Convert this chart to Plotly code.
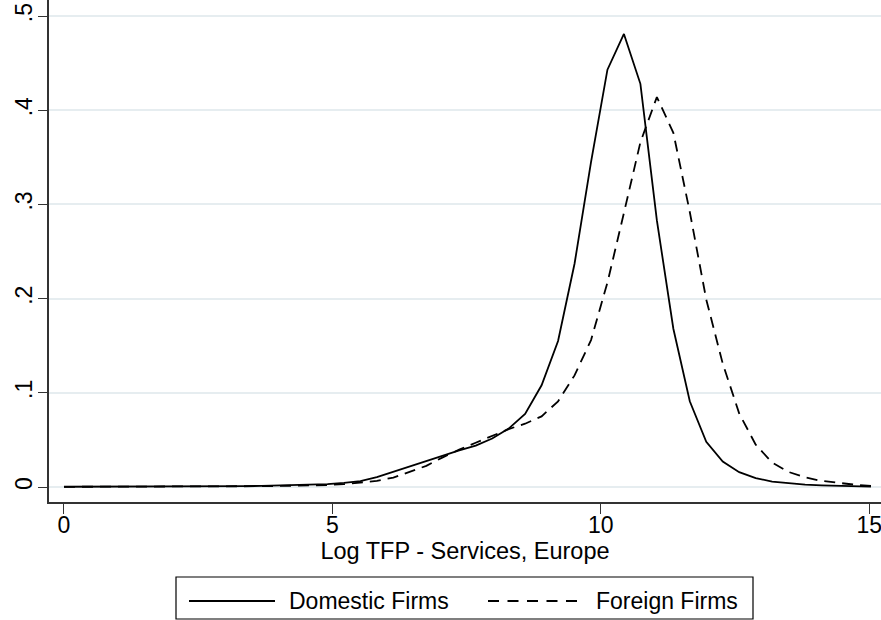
import plotly.graph_objects as go

# Kernel density estimates of log TFP (services, Europe), evaluated on a common grid
log_tfp = [0.000, 0.307, 0.614, 0.920, 1.227, 1.534, 1.841, 2.148, 2.454, 2.761,
           3.068, 3.375, 3.682, 3.988, 4.295, 4.602, 4.909, 5.216, 5.522, 5.829,
           6.136, 6.443, 6.750, 7.056, 7.363, 7.670, 7.977, 8.284, 8.590, 8.897,
           9.204, 9.511, 9.818, 10.124, 10.431, 10.738, 11.045, 11.352, 11.658, 11.965,
           12.272, 12.579, 12.886, 13.192, 13.499, 13.806, 14.113, 14.420, 14.726, 15.033]

domestic_density = [0.0003, 0.0003, 0.0003, 0.0004, 0.0004, 0.0005, 0.0005, 0.0006, 0.0007, 0.0008,
                    0.0009, 0.0010, 0.0012, 0.0015, 0.0019, 0.0024, 0.0031, 0.0043, 0.0063, 0.0105,
                    0.0163, 0.0220, 0.0280, 0.0338, 0.0388, 0.0440, 0.0515, 0.0620, 0.0775, 0.1080,
                    0.1550, 0.2370, 0.3450, 0.4430, 0.4810, 0.4280, 0.2830, 0.1680, 0.0910, 0.0480,
                    0.0270, 0.0158, 0.0095, 0.0058, 0.0038, 0.0025, 0.0017, 0.0011, 0.0007, 0.0004]

foreign_density = [0.0002, 0.0002, 0.0002, 0.0003, 0.0003, 0.0004, 0.0004, 0.0005, 0.0005, 0.0006,
                   0.0007, 0.0008, 0.0009, 0.0011, 0.0013, 0.0016, 0.0021, 0.0030, 0.0045, 0.0066,
                   0.0100, 0.0165, 0.0225, 0.0315, 0.0398, 0.0470, 0.0545, 0.0615, 0.0672, 0.0750,
                   0.0910, 0.1185, 0.1560, 0.2170, 0.2910, 0.3660, 0.4140, 0.3760, 0.2920, 0.1990,
                   0.1310, 0.0780, 0.0450, 0.0260, 0.0160, 0.0102, 0.0065, 0.0041, 0.0025, 0.0012]

x_ticks = [0, 5, 10, 15]
y_ticks = [0, 0.1, 0.2, 0.3, 0.4, 0.5]
y_tick_labels = ["0", ".1", ".2", ".3", ".4", ".5"]
series_names = ["Domestic Firms", "Foreign Firms"]

FONT = "Liberation Sans, Arial, sans-serif"
W, H = 881, 620
M_L, M_R, M_T, M_B = 49, 0, 0, 118
DASH = "11px,7px"
AXIS = "#333333"

fig = go.Figure()
fig.add_trace(go.Scatter(x=log_tfp, y=domestic_density, mode="lines",
                         name=series_names[0], line=dict(color="black", width=1.8)))
fig.add_trace(go.Scatter(x=log_tfp, y=foreign_density, mode="lines",
                         name=series_names[1], line=dict(color="black", width=1.8, dash=DASH)))

# pixel -> paper helpers for the boxed legend under the axis title
pw, ph = W - M_L - M_R, H - M_T - M_B
def px(x):
    return (x - M_L) / pw
def py(y):
    return (H - M_B - y) / ph

box_l, box_r, box_t, box_b = 176, 753, 577, 619
row_y = 601
fig.add_shape(type="rect", xref="paper", yref="paper",
              x0=px(box_l), x1=px(box_r), y0=py(box_b), y1=py(box_t),
              line=dict(color="black", width=1.2), fillcolor="white", layer="below")
fig.add_shape(type="line", xref="paper", yref="paper",
              x0=px(189), x1=px(275), y0=py(row_y), y1=py(row_y),
              line=dict(color="black", width=1.8))
fig.add_shape(type="line", xref="paper", yref="paper",
              x0=px(488), x1=px(578), y0=py(row_y), y1=py(row_y),
              line=dict(color="black", width=1.8, dash="11px,8.5px"))
for name, left in zip(series_names, [289, 596]):
    fig.add_annotation(x=px(left), y=py(row_y), xref="paper", yref="paper",
                       text=name, showarrow=False, xanchor="left", yanchor="middle",
                       xshift=-2, font=dict(family=FONT, size=23, color="black"))

fig.update_layout(
    width=W, height=H,
    margin=dict(l=M_L, r=M_R, t=M_T, b=M_B),
    paper_bgcolor="white", plot_bgcolor="white",
    showlegend=False,
    font=dict(family=FONT, size=23, color="black"),
)
fig.update_xaxes(
    range=[-0.279, 15.22], tickvals=x_ticks, ticks="outside", ticklen=10,
    tickwidth=1.2, tickcolor=AXIS, showline=True, linecolor=AXIS, linewidth=1.5,
    showgrid=False, zeroline=False, ticklabelstandoff=-8, ticklabeloverflow="allow",
    tickfont=dict(family=FONT, size=23, color="black"),
    title=dict(text="Log TFP - Services, Europe", standoff=0,
               font=dict(family=FONT, size=23.5, color="black")),
)
fig.update_yaxes(
    range=[-0.0159, 0.517], tickvals=y_ticks, ticktext=y_tick_labels, tickangle=-90,
    ticks="outside", ticklen=9, tickwidth=1.2, tickcolor=AXIS,
    showline=True, linecolor=AXIS, linewidth=1.5, ticklabelstandoff=-3,
    ticklabeloverflow="allow",
    tickfont=dict(family=FONT, size=23, color="black"),
    showgrid=True, gridcolor="#e6edf0", gridwidth=1.5, zeroline=False,
)

fig.write_html("out.html")
